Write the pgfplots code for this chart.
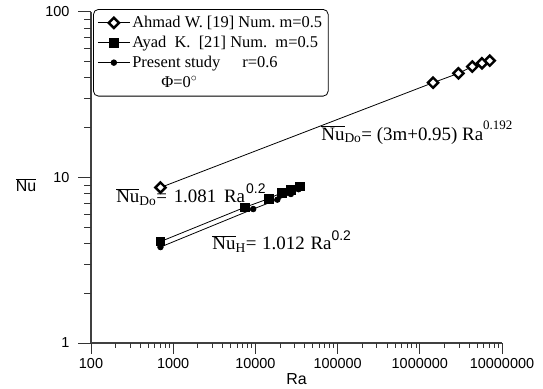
\documentclass[border=0pt]{standalone}
\usepackage{fontspec}
\setmainfont{Liberation Serif}
\setsansfont{Liberation Sans}
\usepackage{pgfplots}
\pgfplotsset{compat=1.18}
\begin{document}
\begin{tikzpicture}
\begin{axis}[
  scale only axis, width=411bp, height=331bp,
  xmode=log, ymode=log, xmin=100, xmax=1e7, ymin=1, ymax=100,
  axis line style={draw=none},
  xtick pos=bottom, ytick pos=left,
  tick align=outside,
  major tick length=12bp, minor tick length=6bp,
  major tick style={draw=none},
  minor tick style={draw=none},
  xtick={100,1000,10000,100000,1000000,10000000},
  xticklabels={100,1000,10000,100000,1000000,10000000},
  minor xtick={200,300,400,500,600,700,800,900,2000,3000,4000,5000,6000,7000,8000,9000,
    20000,30000,40000,50000,60000,70000,80000,90000,200000,300000,400000,500000,600000,700000,800000,900000,
    2000000,3000000,4000000,5000000,6000000,7000000,8000000,9000000},
  ytick={1,10,100}, yticklabels={1,10,100},
  minor ytick={2,3,4,5,6,7,8,9,20,30,40,50,60,70,80,90},
  tick label style={font=\sffamily\fontsize{14.5}{16}\selectfont},
  yticklabel style={xshift=-6bp},
  legend style={at={(axis description cs:0.005,1.009)}, anchor=north west,
    draw=black, line width=0.8bp, rounded corners=5bp,
    font=\fontsize{16.5}{19.5}\selectfont, row sep=3bp, inner xsep=4bp, inner ysep=5bp,
    cells={anchor=west}},
  legend image code/.code={\draw[sharp corners, mark repeat=2, mark phase=2] plot coordinates {(0bp,0bp) (16bp,0bp) (32bp,0bp)};},
  clip=false,
]
\draw[black!75, line width=1.2bp] (rel axis cs:0,1) -- (rel axis cs:0,0) -- (rel axis cs:1,0);
\pgfplotsinvokeforeach{100,1000,10000,100000,1000000,10000000}{
  \draw[black!80, line width=1bp] (axis cs:#1,1) -- ([yshift=-11bp]axis cs:#1,1);}
\pgfplotsinvokeforeach{200,300,400,500,600,700,800,900,2000,3000,4000,5000,6000,7000,8000,9000,
    20000,30000,40000,50000,60000,70000,80000,90000,200000,300000,400000,500000,600000,700000,800000,900000,
    2000000,3000000,4000000,5000000,6000000,7000000,8000000,9000000}{
  \draw[black!80, line width=1bp] (axis cs:#1,1) -- ([yshift=-5bp]axis cs:#1,1);}
\pgfplotsinvokeforeach{1,10,100}{
  \draw[black!80, line width=1bp] (axis cs:100,#1) -- ([xshift=-13bp]axis cs:100,#1);}
\pgfplotsinvokeforeach{2,3,4,5,6,7,8,9,20,30,40,50,60,70,80,90}{
  \draw[black!80, line width=1bp] (axis cs:100,#1) -- ([xshift=-7bp]axis cs:100,#1);}
\addplot[black, line width=0.8bp, mark=square*, mark size=3.6bp,
  mark options={rotate=45, fill=white, line width=2.4bp}]
  coordinates {(700,8.7) (1.45e6,37.4) (2.95e6,42.6) (4.35e6,46.8) (5.7e6,49.0) (7.1e6,50.8)};
\addlegendentry{Ahmad W. [19] Num.\ m=0.5}
\addplot[black, line width=0.8bp, mark=square*, mark size=4.3bp, mark options={fill=black}]
  coordinates {(700,4.1) (7400,6.6) (14500,7.45) (21000,8.1) (27000,8.4) (34500,8.85)};
\addlegendentry{Ayad\ \ K.\ \ [21] Num.\ \ m=0.5}
\addplot[black, line width=0.8bp, mark=*, mark size=2.8bp, mark options={fill=black}]
  coordinates {(700,3.8) (9400,6.45) (18500,7.35) (27000,7.95) (33500,8.5)};
\addlegendentry{Present study\hspace{22bp}r=0.6}
\addlegendimage{empty legend}
\addlegendentry{\hspace{29bp}Φ=0\textsuperscript{$\circ$}}

\node[anchor=base west, font=\fontsize{19}{21}\selectfont] at (axis description cs:0.552,0.613)
  {$\overline{\hbox{Nu}}_{\hbox{\fontsize{13.5}{14}\selectfont Do}}$= (3m+0.95) Ra\raisebox{0.55em}{\fontsize{13}{13}\selectfont 0.192}};
\node[anchor=base west, font=\fontsize{19}{21}\selectfont] at (axis description cs:0.053,0.423)
  {$\overline{\hbox{Nu}}_{\hbox{\fontsize{13.5}{14}\selectfont Do}}$=\hspace{2bp} 1.081\hspace{3bp} Ra\hspace{1bp}\raisebox{0.5em}{\sffamily\fontsize{14}{14}\selectfont 0.2}};
\node[anchor=base west, font=\fontsize{19}{21}\selectfont] at (axis description cs:0.287,0.281)
  {$\overline{\hbox{Nu}}_{\hbox{\fontsize{13.5}{14}\selectfont H}}$=\hspace{1bp} 1.012\hspace{1bp} Ra\raisebox{0.5em}{\sffamily\fontsize{14}{14}\selectfont 0.2}};
\node[font=\sffamily\fontsize{16}{18}\selectfont] at (axis description cs:-0.158,0.477) {$\overline{\hbox{Nu}}$};
\node[font=\sffamily\fontsize{16}{18}\selectfont] at (axis description cs:0.5,-0.108) {Ra};
\end{axis}
\pgfresetboundingbox
\path ([shift={(-91bp,-46bp)}]current axis.south west) rectangle ([shift={(41bp,12bp)}]current axis.north east);
\end{tikzpicture}
\end{document}
